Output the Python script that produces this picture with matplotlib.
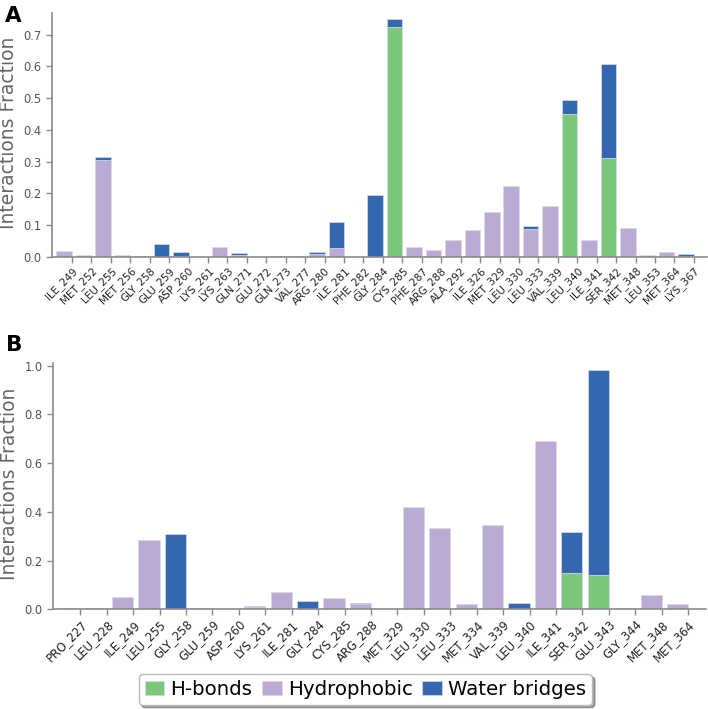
#!/usr/bin/env python
# -*- coding: utf-8 -*-

import numpy as np
import matplotlib
matplotlib.use('Agg')
import matplotlib.pyplot as plt

# panel A data
res_a = ['ILE_249', 'MET_252', 'LEU_255', 'MET_256', 'GLY_258', 'GLU_259',
         'ASP_260', 'LYS_261', 'LYS_263', 'GLN_271', 'GLU_272', 'GLN_273',
         'VAL_277', 'ARG_280', 'ILE_281', 'PHE_282', 'GLY_284', 'CYS_285',
         'PHE_287', 'ARG_288', 'ALA_292', 'ILE_326', 'MET_329', 'LEU_330',
         'LEU_333', 'VAL_339', 'LEU_340', 'ILE_341', 'SER_342', 'MET_348',
         'LEU_353', 'MET_364', 'LYS_367']
hb_a = [0, 0, 0, 0, 0, 0,
        0, 0, 0, 0.005, 0, 0,
        0, 0, 0, 0, 0, 0.724,
        0, 0, 0, 0, 0, 0,
        0, 0, 0.450, 0, 0.311, 0,
        0, 0, 0]
hp_a = [0.020, 0.006, 0.305, 0.007, 0, 0,
        0.002, 0, 0.030, 0, 0, 0,
        0, 0.010, 0.027, 0, 0, 0,
        0.032, 0.022, 0.053, 0.084, 0.142, 0.224,
        0.089, 0.162, 0, 0.053, 0, 0.091,
        0.006, 0.016, 0.002]
wb_a = [0, 0, 0.009, 0, 0.004, 0.040,
        0.013, 0, 0, 0.007, 0, 0.004,
        0.003, 0.007, 0.084, 0, 0.194, 0.027,
        0, 0, 0, 0, 0, 0,
        0.010, 0, 0.043, 0, 0.297, 0,
        0, 0, 0.007]

# panel B data
res_b = ['PRO_227', 'LEU_228', 'ILE_249', 'LEU_255', 'GLY_258', 'GLU_259',
         'ASP_260', 'LYS_261', 'ILE_281', 'GLY_284', 'CYS_285', 'ARG_288',
         'MET_329', 'LEU_330', 'LEU_333', 'MET_334', 'VAL_339', 'LEU_340',
         'ILE_341', 'SER_342', 'GLU_343', 'GLY_344', 'MET_348', 'MET_364']
hb_b = [0, 0, 0, 0, 0, 0,
        0, 0, 0, 0, 0, 0,
        0, 0, 0, 0, 0, 0,
        0, 0.148, 0.140, 0, 0, 0]
hp_b = [0.004, 0.005, 0.051, 0.286, 0, 0,
        0, 0.008, 0.070, 0, 0.048, 0.022,
        0.003, 0.418, 0.334, 0.021, 0.345, 0,
        0.692, 0, 0, 0, 0.058, 0.023]
wb_b = [0, 0, 0, 0, 0.310, 0.005,
        0, 0.004, 0, 0.036, 0, 0.003,
        0, 0, 0, 0, 0, 0.025,
        0, 0.170, 0.841, 0.005, 0, 0]

categories = ['H-bonds', 'Hydrophobic', 'Water bridges']
colors = ['#7cc77c', '#bbaad3', '#3568af']

grey = '#8a8a8a'


def draw_panel(ax, names, hb, hp, wb, yticks, ytop, xfs, labx):
    x = np.arange(len(names))
    hb = np.array(hb)
    hp = np.array(hp)
    wb = np.array(wb)
    kw = dict(width=0.8, edgecolor='#d8dce6', linewidth=0.5)
    ax.bar(x, hb, color=colors[0], label=categories[0], **kw)
    ax.bar(x, hp, bottom=hb, color=colors[1], label=categories[1], **kw)
    ax.bar(x, wb, bottom=hb + hp, color=colors[2], label=categories[2], **kw)

    # ticks sit on the right edge of each bar
    ax.set_xticks(x + 0.4)
    ax.set_xticklabels(names, rotation=45, ha='right', rotation_mode='anchor',
                       fontsize=xfs, color='#222222')
    ax.set_xlim(-0.63, len(names) - 1 + 1.07)
    ax.set_yticks(yticks)
    ax.set_yticklabels(['%.1f' % t for t in yticks], fontsize=8.3, color='#555555')
    ax.set_ylim(0, ytop)
    ax.set_ylabel('Interactions Fraction', fontsize=13.5, color='#666666')
    ax.yaxis.set_label_coords(labx, 0.51)

    for s in ['top', 'right']:
        ax.spines[s].set_visible(False)
    for s in ['left', 'bottom']:
        ax.spines[s].set_color(grey)
        ax.spines[s].set_linewidth(1.2)
    ax.tick_params(axis='both', direction='out', length=4, width=1, color=grey)
    ax.tick_params(axis='x', pad=2)


def main():
    fig = plt.figure(figsize=(7.08, 7.09), dpi=100)

    ax1 = fig.add_axes([0.0734, 0.6375, 0.925, 0.344])
    ax2 = fig.add_axes([0.0750, 0.1406, 0.922, 0.347])

    draw_panel(ax1, res_a, hb_a, hp_a, wb_a, np.arange(0, 0.71, 0.1), 0.768, 7.6, -0.052)
    draw_panel(ax2, res_b, hb_b, hp_b, wb_b, np.arange(0, 1.01, 0.2), 1.01, 8.4, -0.053)

    fig.text(0.007, 0.991, 'A', fontsize=15.5, fontweight='bold', va='top')
    fig.text(0.008, 0.528, 'B', fontsize=15.5, fontweight='bold', va='top')

    handles, labels = ax2.get_legend_handles_labels()
    leg = fig.legend(handles, labels, loc='lower center', ncol=3,
                     bbox_to_anchor=(0.516, -0.008), fontsize=14.2,
                     frameon=True, shadow=True, fancybox=True,
                     handlelength=1.0, handleheight=0.7, handletextpad=0.3,
                     columnspacing=0.5, borderpad=0.3)
    leg.get_frame().set_edgecolor('#bbbbbb')

    fig.savefig('out.png', dpi=100)


if __name__ == "__main__":
    main()
